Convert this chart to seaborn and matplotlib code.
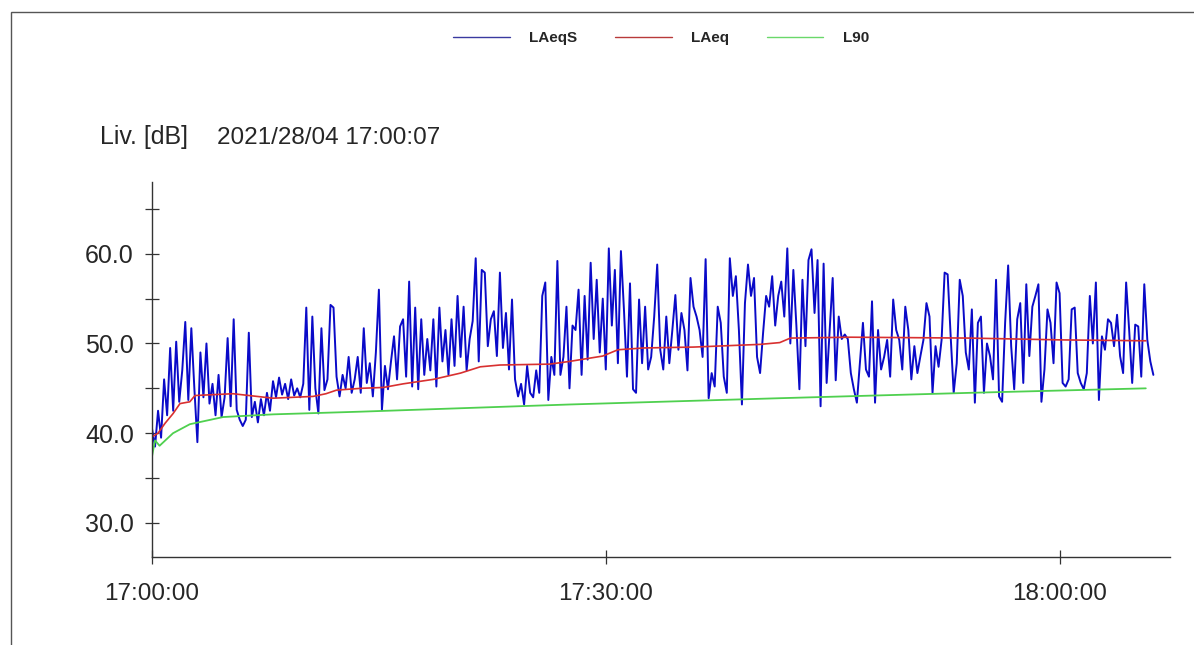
import numpy as np
import pandas as pd
import matplotlib
matplotlib.use("Agg")
import matplotlib.pyplot as plt
import matplotlib.patches as mpatches
import seaborn as sns

# ---------------- data ----------------
# LAeqS: short-term level, one reading every 0.2 min (12 s) from 17:00:00
laeqs_step_min = 0.2
laeqs_values = [
    40.5, 38.5, 42.5, 39.5, 46.0, 42.0, 49.5, 42.5, 50.2, 43.5,
    47.0, 52.4, 43.7, 51.7, 45.0, 39.0, 49.0, 44.0, 50.0, 43.3,
    45.5, 42.0, 46.5, 41.8, 44.0, 50.6, 43.0, 52.7, 42.6, 41.5,
    40.8, 41.5, 51.2, 41.8, 43.5, 41.2, 43.8, 42.0, 44.5, 42.5,
    45.8, 44.0, 46.2, 44.3, 45.5, 43.8, 46.0, 44.2, 45.0, 44.0,
    45.5, 54.0, 42.6, 53.0, 45.0, 42.2, 51.7, 44.8, 46.0, 54.3,
    54.0, 46.3, 44.1, 46.5, 45.0, 48.5, 44.5, 46.0, 48.5, 44.5,
    51.7, 45.6, 47.8, 44.1, 49.0, 56.0, 42.6, 47.5, 44.9, 48.0,
    50.8, 46.0, 51.9, 52.7, 46.3, 56.9, 45.2, 54.0, 44.9, 52.7,
    46.5, 50.5, 47.0, 52.7, 45.2, 54.0, 48.0, 51.5, 46.5, 52.7,
    47.5, 55.3, 48.5, 54.1, 47.0, 50.5, 52.5, 59.5, 48.0, 58.2,
    57.9, 49.7, 52.7, 53.6, 48.6, 57.9, 49.5, 53.4, 47.1, 54.9,
    46.0, 44.1, 45.5, 43.2, 47.5, 44.5, 44.0, 47.0, 44.5, 55.3,
    56.8, 43.7, 48.5, 46.5, 59.2, 46.5, 48.5, 54.1, 45.0, 52.0,
    51.5, 56.0, 46.5, 55.3, 48.2, 59.0, 50.5, 57.1, 49.0, 55.0,
    47.1, 60.6, 52.0, 58.2, 47.8, 60.3, 53.8, 46.3, 56.7, 44.9,
    44.5, 54.9, 47.8, 54.1, 47.1, 48.5, 53.0, 58.8, 49.3, 47.1,
    53.0, 47.8, 51.5, 55.4, 49.3, 53.4, 51.5, 47.0, 57.3, 54.1,
    53.0, 51.5, 48.5, 59.4, 43.9, 46.7, 45.2, 54.1, 52.3, 46.3,
    44.5, 59.5, 55.3, 57.5, 51.5, 43.2, 54.5, 58.8, 55.3, 57.3,
    48.5, 46.7, 51.2, 55.3, 54.1, 57.5, 52.0, 55.3, 56.9, 53.0,
    60.6, 50.0, 58.2, 52.0, 44.9, 57.1, 49.7, 59.3, 60.5, 53.4,
    59.3, 43.0, 58.9, 45.6, 51.5, 57.3, 45.9, 53.0, 50.5, 51.0,
    50.5, 46.7, 44.9, 43.4, 47.8, 52.3, 47.1, 46.3, 54.7, 43.4,
    51.5, 47.1, 48.5, 50.4, 46.3, 54.9, 51.5, 50.4, 47.1, 54.1,
    51.5, 46.0, 49.7, 46.7, 48.6, 50.4, 54.5, 53.0, 44.5, 49.7,
    47.4, 50.4, 57.9, 57.7, 50.8, 44.5, 47.8, 57.1, 55.3, 49.0,
    47.1, 53.8, 43.4, 52.3, 53.0, 44.5, 50.0, 48.6, 46.0, 57.1,
    44.1, 43.5, 52.3, 58.7, 49.7, 44.9, 52.7, 54.5, 45.6, 56.6,
    48.6, 54.1, 55.3, 56.6, 43.5, 47.1, 53.8, 52.3, 47.8, 56.8,
    55.6, 45.6, 45.2, 46.0, 53.8, 54.0, 46.7, 45.6, 44.9, 46.7,
    55.3, 50.0, 56.8, 43.7, 50.8, 49.3, 52.7, 52.3, 49.7, 53.2,
    48.6, 46.7, 56.8, 51.5, 45.6, 52.1, 51.9, 46.3, 56.6, 50.4,
    48.0, 46.5,
]

# LAeq: running equivalent level (minutes after 17:00, dB)
laeq_minutes = [0.0, 0.4, 0.86, 1.4, 1.85, 2.5, 2.84, 5.36, 8.0, 10.65, 11.5, 12.2,
                13.8, 15.3, 16.6, 18.6, 20.4, 21.7, 23.0, 26.3, 27.6, 29.8,
                30.8, 32.5, 35.8, 40.2, 41.5, 42.2, 46.2, 54.1, 60.1, 65.7]
laeq_values = [39.6, 40.0, 41.1, 42.2, 43.3, 43.5, 44.2, 44.4, 43.9, 44.1, 44.4, 44.8,
               45.0, 45.1, 45.5, 46.0, 46.7, 47.4, 47.6, 47.7, 48.0, 48.6,
               49.3, 49.5, 49.6, 49.9, 50.1, 50.6, 50.7, 50.6, 50.4, 50.3]

# L90 (minutes after 17:00, dB)
l90_minutes = [0.0, 0.2, 0.5, 1.39, 2.5, 4.7, 8.0, 13.8, 27.6, 41.5, 54.1, 65.7]
l90_values = [37.4, 39.2, 38.6, 40.0, 41.0, 41.8, 42.1, 42.4, 43.2, 43.9, 44.5, 45.0]

y_ticks = [30, 40, 50, 60]
y_minor_ticks = [35, 45, 55, 65]
x_ticks = [0, 30, 60]
x_tick_labels = ["17:00:00", "17:30:00", "18:00:00"]
series_names = ["LAeqS", "LAeq", "L90"]

# ---------------- figure ----------------
sns.set_style("white")
plt.rcParams["font.family"] = ["Liberation Sans", "DejaVu Sans"]

W, H = 1194, 645
fig = plt.figure(figsize=(W / 100, H / 100), dpi=100)
ax = fig.add_axes([152 / W, 1 - 557 / H, (1170 - 152) / W, (557 - 182) / H])

blue_df = pd.DataFrame({"t": np.arange(len(laeqs_values)) * laeqs_step_min,
                        "v": laeqs_values})
red_df = pd.DataFrame({"t": laeq_minutes, "v": laeq_values})
green_df = pd.DataFrame({"t": l90_minutes, "v": l90_values})

c_blue, c_red, c_green = "#0a0ac8", "#d83030", "#4fd04f"
sns.lineplot(data=blue_df, x="t", y="v", ax=ax, color=c_blue, lw=1.4,
             estimator=None, sort=False, legend=False)
sns.lineplot(data=red_df, x="t", y="v", ax=ax, color=c_red, lw=1.2,
             estimator=None, sort=False, legend=False)
sns.lineplot(data=green_df, x="t", y="v", ax=ax, color=c_green, lw=1.3,
             estimator=None, sort=False, legend=False)

ax.set_xlim(0, 67.3)
ax.set_ylim(26.2, 68)
ax.set_xlabel("")
ax.set_ylabel("")

for s in ["top", "right"]:
    ax.spines[s].set_visible(False)
for s in ["left", "bottom"]:
    ax.spines[s].set_color("#333333")
    ax.spines[s].set_linewidth(1.0)

ax.set_yticks(y_ticks)
ax.set_yticklabels([f"{v:.1f}" for v in y_ticks])
ax.set_yticks(y_minor_ticks, minor=True)
ax.set_xticks(x_ticks)
ax.set_xticklabels(x_tick_labels)

ax.tick_params(axis="y", which="both", direction="inout", length=9.4, width=0.9,
               color="#333333", labelsize=18, pad=8.3, left=True)
ax.tick_params(axis="x", which="both", direction="inout", length=9.4, width=0.9,
               color="#333333", labelsize=17.5, pad=14, bottom=True)
ax.grid(False)

# header texts
fig.text(100 / W, 1 - 144 / H, "Liv. [dB]", fontsize=18, va="baseline", ha="left")
fig.text(217 / W, 1 - 144 / H, "2021/28/04 17:00:07", fontsize=17.5,
         va="baseline", ha="left")

# legend
handles = [plt.Line2D([], [], color=c, lw=1.0) for c in
           ["#3a3aa0", "#b83a3a", "#6ad86a"]]
fig.legend(handles, series_names, loc="center", bbox_to_anchor=(661 / W, 1 - 38 / H),
           ncol=3, frameon=False, prop={"weight": "bold", "size": 11},
           handlelength=3.7, handletextpad=1.25, columnspacing=2.5)

# outer frame (left and top edges visible)
fig.add_artist(mpatches.Rectangle((10.5 / W, -0.2), 1.5, 1.2 + (1 - 11.7 / H) - 1.0,
                                  transform=fig.transFigure, fill=False,
                                  edgecolor="#555555", lw=1.0))

fig.savefig("out.png", dpi=100)
